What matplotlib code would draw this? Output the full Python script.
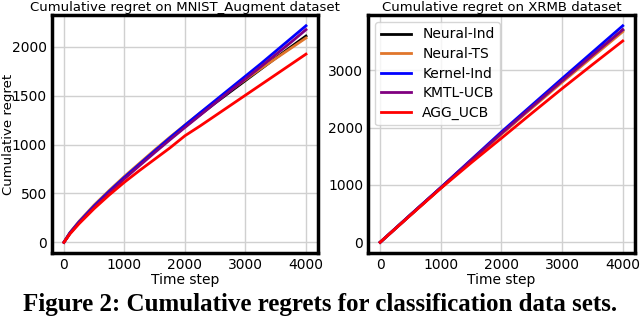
import numpy as np
import matplotlib
matplotlib.use('Agg')
import matplotlib.pyplot as plt

# 알고리즘 이름 / 색
methods = ['Neural-Ind', 'Neural-TS', 'Kernel-Ind', 'KMTL-UCB', 'AGG_UCB']
colors = ['black', '#e0762c', 'blue', 'purple', 'red']

# MNIST_Augment
mnist_steps = [0, 100, 250, 500, 750, 1000, 1250, 1500, 1750, 2000,
               2250, 2500, 2750, 3000, 3250, 3500, 3750, 4000]
mnist_neural_ind = [0, 95, 205, 370, 520, 662, 797, 930, 1058, 1185,
                    1305, 1425, 1540, 1655, 1770, 1885, 1998, 2110]
mnist_neural_ts = [0, 100, 215, 382, 532, 675, 810, 945, 1075, 1200,
                   1322, 1440, 1555, 1665, 1775, 1880, 1985, 2090]
mnist_kernel_ind = [0, 97, 208, 372, 522, 665, 800, 935, 1068, 1198,
                    1325, 1450, 1575, 1700, 1825, 1955, 2085, 2215]
mnist_kmtl_ucb = [0, 92, 200, 360, 508, 650, 785, 918, 1048, 1175,
                  1300, 1425, 1550, 1672, 1795, 1920, 2045, 2175]
mnist_agg_ucb = [0, 86, 190, 345, 485, 615, 735, 850, 965, 1090,
                 1190, 1295, 1400, 1505, 1610, 1715, 1820, 1925]

# XRMB (500 step 간격)
xrmb_steps = [0, 500, 1000, 1500, 2000, 2500, 3000, 3500, 4000]
xrmb_neural_ind = [0, 478, 950, 1425, 1895, 2355, 2810, 3258, 3700]
xrmb_neural_ts = [0, 476, 948, 1420, 1885, 2340, 2790, 3232, 3672]
xrmb_kernel_ind = [0, 480, 955, 1440, 1925, 2390, 2855, 3315, 3775]
xrmb_kmtl_ucb = [0, 478, 952, 1428, 1900, 2360, 2815, 3262, 3705]
xrmb_agg_ucb = [0, 472, 940, 1385, 1815, 2250, 2680, 3098, 3510]

plt.rcParams['font.family'] = ['DejaVu Sans']

fig = plt.figure(figsize=(6.4, 3.18), dpi=100)
ax1 = fig.add_axes([0.081, 0.204, 0.416, 0.749])
ax2 = fig.add_axes([0.575, 0.204, 0.417, 0.749])

mnist = [mnist_neural_ind, mnist_neural_ts, mnist_kernel_ind, mnist_kmtl_ucb, mnist_agg_ucb]
xrmb = [xrmb_neural_ind, xrmb_neural_ts, xrmb_kernel_ind, xrmb_kmtl_ucb, xrmb_agg_ucb]

for name, c, y in zip(methods, colors, mnist):
    ax1.plot(mnist_steps, y, color=c, lw=2, label=name)
for name, c, y in zip(methods, colors, xrmb):
    ax2.plot(xrmb_steps, y, color=c, lw=2, label=name)

ax1.set_title('Cumulative regret on MNIST_Augment dataset', fontsize=9.5, pad=3)
ax2.set_title('Cumulative regret on XRMB dataset', fontsize=9.5, pad=3)
ax1.set_ylabel('Cumulative regret', fontsize=9.5)
ax1.yaxis.set_label_coords(-0.137, 0.5)

for ax in (ax1, ax2):
    ax.set_xlabel('Time step', fontsize=10, labelpad=1)
    ax.grid(True, color='#d0d0d0', lw=1)
    ax.set_axisbelow(True)
    ax.tick_params(labelsize=10, length=0, pad=3.5)
    ax.set_xticks([0, 1000, 2000, 3000, 4000])
    for s in ax.spines.values():
        s.set_linewidth(2.5)
        s.set_color('black')

ax1.set_yticks([0, 500, 1000, 1500, 2000])
ax2.set_yticks([0, 1000, 2000, 3000])

ax2.legend(loc='upper left', fontsize=10, handlelength=2.2, borderpad=0.4,
           labelspacing=0.4, framealpha=0.8)

# 캡션
fig.text(0.5, 0.022, 'Figure 2: Cumulative regrets for classification data sets.',
         ha='center', va='baseline', fontsize=18, fontweight='bold',
         family='Liberation Serif')

fig.savefig('out.png', dpi=100)
